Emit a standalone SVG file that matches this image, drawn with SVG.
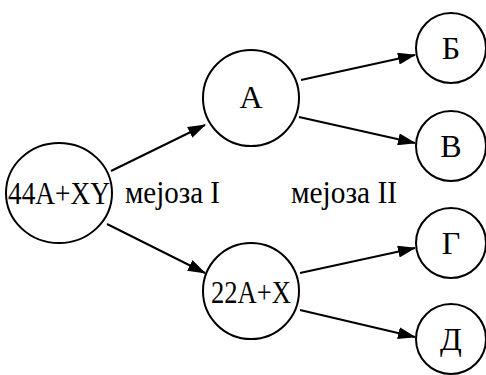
<svg xmlns="http://www.w3.org/2000/svg" width="486" height="375" viewBox="0 0 486 375">
<style>
.n{fill:#fff;stroke:#000;stroke-width:2}
.t{font-family:"Liberation Serif","DejaVu Serif",serif;font-size:32px;fill:#000;text-anchor:middle}
.l{font-family:"Liberation Serif","DejaVu Serif",serif;font-size:31px;fill:#000}
.e{stroke:#000;stroke-width:2;fill:none;marker-end:url(#ah)}
</style>
<defs>
<marker id="ah" markerWidth="18" markerHeight="12" refX="17" refY="6" orient="auto" markerUnits="userSpaceOnUse">
<path d="M0,0 L18,6 L0,12 Z" fill="#000"/>
</marker>
</defs>
<rect width="486" height="375" fill="#fff"/>
<g id="connectors">
<line class="e" x1="111" y1="171" x2="205" y2="125"/>
<line class="e" x1="107" y1="224" x2="205" y2="273"/>
<line class="e" x1="301" y1="80" x2="415" y2="55"/>
<line class="e" x1="299" y1="117" x2="415" y2="143"/>
<line class="e" x1="300" y1="273" x2="415" y2="248"/>
<line class="e" x1="300" y1="310" x2="415" y2="337"/>
</g>
<g id="n0"><ellipse class="n" cx="59" cy="193" rx="53" ry="50"/><text class="t" x="59" y="204" textLength="102" lengthAdjust="spacingAndGlyphs">44A+XY</text></g>
<g id="nA"><circle class="n" cx="251" cy="98" r="48"/><text class="t" x="251" y="108">A</text></g>
<g id="nX"><circle class="n" cx="251" cy="291" r="48"/><text class="t" x="251" y="303" textLength="80" lengthAdjust="spacingAndGlyphs">22A+X</text></g>
<g id="nB"><circle class="n" cx="451" cy="48" r="35"/><text class="t" x="451" y="59">Б</text></g>
<g id="nV"><circle class="n" cx="451" cy="146" r="35"/><text class="t" x="451" y="157">В</text></g>
<g id="nG"><circle class="n" cx="451" cy="243" r="35"/><text class="t" x="451" y="254">Г</text></g>
<g id="nD"><circle class="n" cx="451" cy="339" r="35"/><text class="t" x="451" y="350">Д</text></g>
<text class="l" x="125" y="203" textLength="95" lengthAdjust="spacingAndGlyphs">мејоза I</text>
<text class="l" x="291" y="203" textLength="106" lengthAdjust="spacingAndGlyphs">мејоза II</text>
</svg>
